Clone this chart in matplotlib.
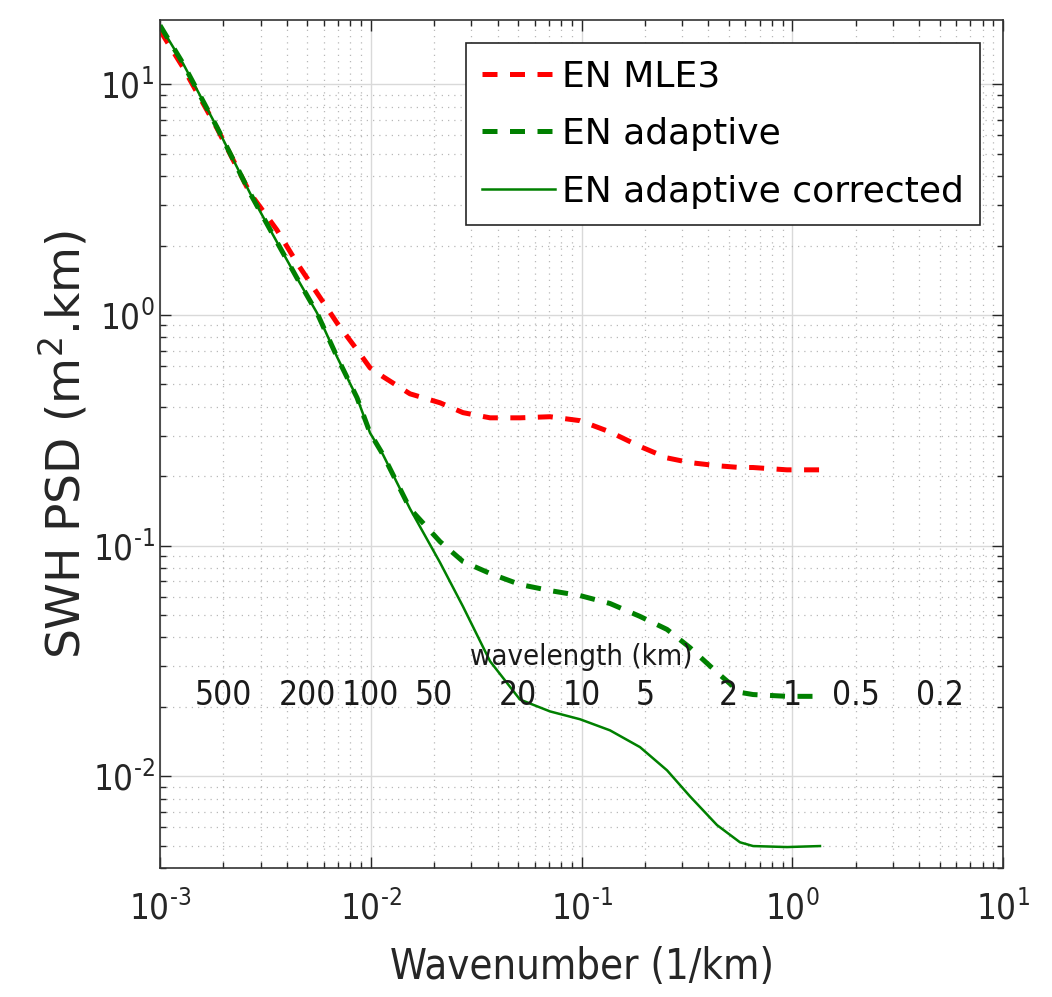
import math
import matplotlib
matplotlib.use("Agg")
import matplotlib.pyplot as plt
import matplotlib.transforms as mtransforms
from matplotlib.ticker import LogLocator, FuncFormatter, NullFormatter

plt.rcParams['font.family'] = ['DejaVu Sans']
plt.rcParams['font.stretch'] = 'condensed'
plt.rcParams['mathtext.default'] = 'regular'
plt.rcParams['axes.unicode_minus'] = False

# wavenumber (1/km)
k = [0.001, 0.001285, 0.001864, 0.002673, 0.003589, 0.004467, 0.005559, 0.006918,
     0.00861, 0.00992, 0.01143, 0.01535, 0.02132, 0.0274, 0.03683, 0.05105, 0.07087,
     0.0984, 0.1365, 0.1895, 0.2545, 0.3271, 0.4395, 0.5649, 0.6518, 0.944, 1.354]

psd_mle3 = [17.13, 11.85, 6.45, 3.375, 2.334, 1.679, 1.245, 0.923, 0.706, 0.590, 0.540,
            0.455, 0.416, 0.377, 0.358, 0.358, 0.362, 0.348, 0.311, 0.269, 0.240, 0.229,
            0.222, 0.218, 0.218, 0.213, 0.213]

psd_adaptive = [18.0, 12.33, 6.51, 3.375, 2.07, 1.445, 1.02, 0.658, 0.4375, 0.308, 0.248,
                0.1445, 0.104, 0.0853, 0.0757, 0.0678, 0.0638, 0.0607, 0.0561, 0.0493,
                0.0433, 0.0361, 0.0282, 0.0231, 0.0226, 0.0222, 0.0222]

psd_adaptive_corr = [18.0, 12.33, 6.51, 3.375, 2.07, 1.445, 1.02, 0.658, 0.4375, 0.308,
                     0.248, 0.1445, 0.0844, 0.0544, 0.0315, 0.0215, 0.0191, 0.01766,
                     0.01581, 0.01337, 0.01061, 0.00818, 0.00614, 0.00517, 0.00498,
                     0.00493, 0.00498]

wavelengths = [500, 200, 100, 50, 20, 10, 5, 2, 1, 0.5, 0.2]
wavelength_labels = ['500', '200', '100', '50', '20', '10', '5', '2', '1', '0.5', '0.2']

series_labels = ['EN MLE3', 'EN adaptive', 'EN adaptive corrected']

fig = plt.figure(figsize=(10.52, 9.97), dpi=100)
ax = fig.add_axes([160/1052, 1-868/997, (1003-160)/1052, (868-20)/997])

dash = (0, (3.0, 2.5))
ax.plot(k, psd_mle3, color=(1, 0, 0), lw=3.6, ls=dash, label=series_labels[0])
ax.plot(k, psd_adaptive, color=(0, 0.5, 0), lw=3.6, ls=dash, label=series_labels[1])
ax.plot(k, psd_adaptive_corr, color=(0, 0.5, 0), lw=1.8, ls='-', label=series_labels[2])

ax.set_xscale('log')
ax.set_yscale('log')
ax.set_xlim(1e-3, 1e1)
ax.set_ylim(0.004, 19)

ax.xaxis.set_major_locator(LogLocator(base=10, numticks=10))
ax.xaxis.set_minor_locator(LogLocator(base=10, subs=range(2, 10), numticks=50))
ax.yaxis.set_major_locator(LogLocator(base=10, numticks=10))
ax.yaxis.set_minor_locator(LogLocator(base=10, subs=range(2, 10), numticks=50))

HYPHEN = '\u2010'

def fmt(v, pos):
    e = int(round(math.log10(v)))
    if e < 0:
        return '$\\mathregular{10^{' + HYPHEN + str(-e) + '}}$'
    return '$\\mathregular{10^{' + str(e) + '}}$'

ax.xaxis.set_major_formatter(FuncFormatter(fmt))
ax.yaxis.set_major_formatter(FuncFormatter(fmt))
ax.xaxis.set_minor_formatter(NullFormatter())
ax.yaxis.set_minor_formatter(NullFormatter())

ax.grid(True, which='major', color='0.85', lw=1.0, ls='-')
ax.grid(True, which='minor', color='0.72', lw=0.9, ls=(0, (1, 4)))
ax.set_axisbelow(True)

ax.tick_params(which='both', direction='in', top=True, right=True, colors='0.15',
               labelsize=25, width=1.0)
ax.tick_params(which='major', length=8)
ax.tick_params(axis='x', which='major', pad=16)
ax.tick_params(axis='y', which='major', pad=4)
ax.tick_params(which='minor', length=4.5)
for s in ax.spines.values():
    s.set_color('0.2')
    s.set_linewidth(1.2)

ax.set_xlabel('Wavenumber (1/km)', fontsize=30, color='0.15', labelpad=14)
ax.set_ylabel('SWH PSD (m$^2$.km)', fontsize=34, color='0.15', labelpad=2,
              fontstretch='normal')

trans = mtransforms.blended_transform_factory(ax.transData, ax.transAxes)
for wl, lab in zip(wavelengths, wavelength_labels):
    ax.text(1.0 / wl, 0.204, lab, transform=trans, ha='center', va='center',
            fontsize=24, color='0.1')
ax.text(0.1, 0.249, 'wavelength (km)', transform=trans, ha='center', va='center',
        fontsize=21, color='0.1')

leg = ax.legend(loc='upper right', bbox_to_anchor=((980-160)/843, (868-43)/848),
                borderaxespad=0, frameon=True, fancybox=False,
                prop={'family': 'DejaVu Sans', 'stretch': 'normal', 'size': 26},
                handlelength=2.0, handletextpad=0.2, labelspacing=0.66,
                borderpad=0.45, framealpha=1)
leg.get_frame().set_edgecolor('0.15')
leg.get_frame().set_linewidth(1.2)

fig.savefig('out.png', dpi=100)
